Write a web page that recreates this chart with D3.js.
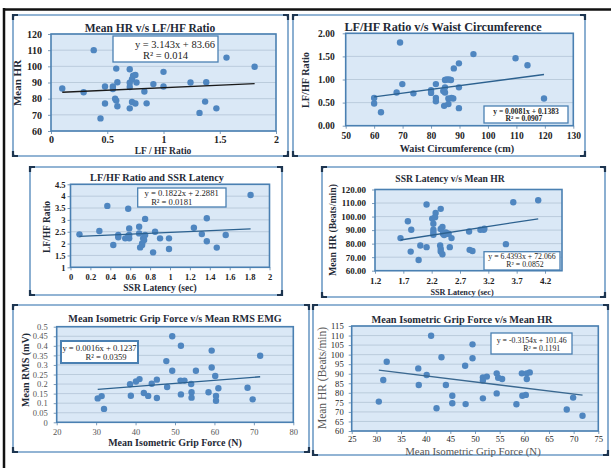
<!DOCTYPE html>
<html>
<head>
<meta charset="utf-8">
<script src="https://cdn.jsdelivr.net/npm/d3@7"></script>
<style>
  body { margin: 0; background: #fff; }
  svg { display: block; }
  text { font-family: "Liberation Serif", "DejaVu Serif", serif; }
</style>
</head>
<body>
<script>
// ---- data ----
// panel 1 : Mean HR v/s LF/HF ratio
const p1Lf = [0.1, 0.29, 0.38, 0.44, 0.48, 0.48, 0.55, 0.55, 0.58, 0.58, 0.57, 0.59, 0.59, 0.7, 0.7, 0.7, 0.7, 0.72, 0.73, 0.75, 0.72, 0.75, 0.76, 0.83, 0.85, 0.91, 1.0, 1.0, 1.24, 1.32, 1.37, 1.38, 1.47, 1.56, 1.81]
const p1Hr = [86.3, 84, 110, 67.8, 87.5, 77, 87.5, 86, 98.6, 78.8, 80, 90.2, 75.3, 98.2, 89.8, 87.2, 74, 92, 94.2, 94.6, 77.9, 77, 90, 84.4, 77.1, 89, 96.6, 87.5, 90, 71.2, 78.2, 90.2, 74, 105.4, 99.7]
const p1Ticks = { x: [0, 0.5, 1, 1.5, 2], y: [60, 70, 80, 90, 100, 110, 120] }

// panel 2 : LF/HF ratio v/s waist circumference
const p2Waist = [69.1, 60, 60, 62.4, 67.9, 69.9, 73.8, 80, 80, 81.7, 81.7, 81.7, 84.3, 84.9, 84.9, 84.6, 84.9, 85.5, 86.3, 87, 86.1, 87.2, 86.1, 88, 89.8, 89.8, 89.8, 87.8, 94.9, 109.7, 113.9, 119.7]
const p2Lf = [1.8, 0.6, 0.48, 0.29, 0.72, 0.9, 0.7, 0.77, 0.71, 0.9, 0.6, 0.53, 0.75, 0.83, 0.99, 0.43, 0.72, 1.0, 1.0, 0.99, 0.59, 0.6, 0.47, 1.24, 1.35, 0.83, 0.38, 0.59, 1.55, 1.46, 1.31, 0.59]
const p2Ticks = { x: [50, 60, 70, 80, 90, 100, 110, 120, 130], y: [0, 0.5, 1, 1.5, 2] }

// panel 3 : LF/HF ratio and SSR latency
const p3Ssr = [0.09, 0.29, 0.37, 0.43, 0.48, 0.48, 0.58, 0.55, 0.58, 0.59, 0.59, 0.59, 0.69, 0.69, 0.7, 0.72, 0.73, 0.74, 0.75, 0.75, 0.72, 0.83, 0.85, 0.9, 0.99, 0.99, 1.24, 1.32, 1.37, 1.37, 1.47, 1.56, 1.81]
const p3Lf = [2.39, 2.53, 3.59, 1.94, 2.36, 2.27, 3.47, 2.22, 2.32, 2.64, 2.22, 2.36, 2.71, 2.43, 1.84, 2.01, 2.22, 2.15, 3.04, 2.36, 1.94, 1.63, 2.5, 2.22, 2.22, 1.77, 2.67, 2.4, 3.07, 2.1, 1.83, 2.36, 4.05]
const p3Ticks = { x: [0, 0.2, 0.4, 0.6, 0.8, 1, 1.2, 1.4, 1.6, 1.8, 2], y: [1, 1.5, 2, 2.5, 3, 3.5, 4, 4.5] }

// panel 4 : SSR latency v/s mean HR
const p4Ssr = [1.65, 1.78, 1.83, 1.84, 1.97, 2.0, 2.11, 2.11, 2.21, 2.23, 2.23, 2.23, 2.23, 2.27, 2.26, 2.36, 2.35, 2.36, 2.36, 2.39, 2.36, 2.39, 2.4, 2.42, 2.45, 2.47, 2.5, 2.52, 2.55, 2.86, 2.87, 2.92, 3.06, 3.12, 3.13, 3.51, 3.64, 4.08]
const p4Hr = [84.1, 96.5, 74.1, 90.3, 67.9, 78.6, 108.9, 77.4, 98.5, 94.7, 90.3, 88.3, 86.5, 102.7, 99.5, 105.7, 78.6, 76.1, 74.1, 72.2, 90.8, 92.3, 87.3, 86.3, 88.3, 87.3, 87.3, 77.4, 84.1, 89, 75.4, 74.6, 90.3, 90.3, 91, 79.6, 110.6, 112.1]
const p4Ticks = { x: [1.2, 1.7, 2.2, 2.7, 3.2, 3.7, 4.2], y: [60, 70, 80, 90, 100, 110, 120] }

// panel 5 : grip force v/s RMS EMG
const p5Grip = [30.4, 31.4, 32, 38.6, 38.8, 40.1, 41, 42.1, 43.2, 44.1, 45.4, 45.4, 47.8, 48, 49.3, 49.3, 51.5, 51.4, 51.5, 52.4, 54.1, 54.2, 54.2, 55.3, 58.5, 59.3, 59.3, 60.2, 60.4, 60.4, 61, 68.4, 69.7, 71.6]
const p5Rms = [0.125, 0.137, 0.07, 0.199, 0.139, 0.213, 0.226, 0.153, 0.138, 0.202, 0.223, 0.127, 0.32, 0.185, 0.45, 0.27, 0.4, 0.218, 0.146, 0.218, 0.2, 0.157, 0.129, 0.27, 0.157, 0.375, 0.287, 0.242, 0.138, 0.113, 0.178, 0.181, 0.12, 0.348]
const p5Ticks = { x: [20, 30, 40, 50, 60, 70, 80], y: [0, 0.05, 0.1, 0.15, 0.2, 0.25, 0.3, 0.35, 0.4, 0.45, 0.5] }

// panel 6 : grip force v/s mean HR
const p6Grip = [30.5, 31.4, 32.1, 38.5, 38.6, 40.2, 41.1, 42.2, 43.2, 44.1, 45.4, 45.4, 48, 48.1, 49.5, 49.5, 51.6, 51.6, 51.6, 52.4, 54.4, 54.4, 54.7, 55.5, 58.4, 59.5, 59.6, 60.3, 60.5, 60.5, 61.1, 68.6, 69.9, 71.8]
const p6Hr = [75.4, 86.7, 96.3, 92.8, 84.1, 89.3, 109.9, 71.9, 98.6, 84.1, 78.5, 74.5, 94.2, 74.1, 105.4, 98.1, 88.1, 86.4, 77.1, 88.5, 90.2, 79.7, 87.9, 87.2, 74, 90.2, 78.5, 78.9, 90.2, 87.2, 90.7, 71.3, 77.5, 68]
const p6Ticks = { x: [25, 30, 35, 40, 45, 50, 55, 60, 65, 70, 75], y: [60, 65, 70, 75, 80, 85, 90, 95, 100, 105, 110, 115] }

// trend lines (slope, intercept) as printed on the chart
const trends = [[3.143, 83.66], [0.0081, 0.1383], [0.1822, 2.2881], [6.4393, 72.066], [0.0016, 0.1237], [-0.3154, 101.46]]

const svg = d3.select("body").append("svg")
    .attr("width", 611)
    .attr("height", 468)

// outer black border (top + left)
svg.append("line").attr("x1", 4).attr("x2", 611).attr("y1", 9.5).attr("y2", 9.5)
    .attr("stroke", "#111").attr("stroke-width", 2.5)
svg.append("line").attr("x1", 4).attr("x2", 4).attr("y1", 8).attr("y2", 468)
    .attr("stroke", "#111").attr("stroke-width", 2.5)

function panel(c) {
    const g = svg.append("g")
    // frame
    g.append("rect")
        .attr("x", c.frame[0]).attr("y", c.frame[1])
        .attr("width", c.frame[2] - c.frame[0]).attr("height", c.frame[3] - c.frame[1])
        .attr("rx", 3).attr("fill", "#fff")
        .attr("stroke", "#6f9cc6").attr("stroke-width", 1.6)
    // dark corners
    const [fx0, fy0, fx1, fy1] = c.frame
    const L = 5
    const corners = [
        `M${fx0},${fy0 + L}L${fx0},${fy0}L${fx0 + L},${fy0}`,
        `M${fx1 - L},${fy0}L${fx1},${fy0}L${fx1},${fy0 + L}`,
        `M${fx0},${fy1 - L}L${fx0},${fy1}L${fx0 + L},${fy1}`,
        `M${fx1 - L},${fy1}L${fx1},${fy1}L${fx1},${fy1 - L}`
    ]
    g.selectAll(".corner").data(corners).enter().append("path")
        .attr("d", d => d).attr("fill", "none")
        .attr("stroke", "#1d3550").attr("stroke-width", 2.2)

    const [px0, py0, px1, py1] = c.plot
    const x = d3.scaleLinear().domain(c.xDomain).range([px0, px1])
    const y = d3.scaleLinear().domain(c.yDomain).range([py1, py0])

    // plot area
    g.append("rect")
        .attr("x", px0).attr("y", py0).attr("width", px1 - px0).attr("height", py1 - py0)
        .attr("fill", "#dae8f6")

    // gridlines
    g.append("g").selectAll("line").data(c.ticks.y).enter().append("line")
        .attr("x1", px0).attr("x2", px1)
        .attr("y1", d => y(d)).attr("y2", d => y(d))
        .attr("stroke", "#b3c4d6").attr("stroke-width", 0.8)

    const tickFont = c.tickBold ? "bold" : "normal"
    const yAxis = g.append("g")
        .attr("transform", `translate(${px0},0)`)
        .call(d3.axisLeft(y).tickValues(c.ticks.y).tickSize(3).tickPadding(c.yPad || 4).tickFormat(c.yFmt))
    const xAxis = g.append("g")
        .attr("transform", `translate(0,${py1})`)
        .call(d3.axisBottom(x).tickValues(c.ticks.x).tickSize(3).tickPadding(c.xPad || 4).tickFormat(c.xFmt))
    for (const ax of [yAxis, xAxis]) {
        ax.select(".domain").remove()
        ax.selectAll("line").attr("stroke", "#7d9bb8")
        ax.selectAll("text")
            .style("font-family", '"Liberation Serif", serif')
            .style("font-size", c.tickSize + "px")
            .style("font-weight", tickFont)
            .attr("fill", c.tickColor || "#222")
    }

    // plot border
    g.append("rect")
        .attr("x", px0).attr("y", py0).attr("width", px1 - px0).attr("height", py1 - py0)
        .attr("fill", "none").attr("stroke", "#4a80b2").attr("stroke-width", 1.6)

    // points
    g.append("g").selectAll("circle").data(c.xs.map((v, i) => [v, c.ys[i]])).enter()
        .append("circle")
        .attr("cx", d => x(d[0])).attr("cy", d => y(d[1]))
        .attr("r", 3.2).attr("fill", "#4f86c0")

    // trend line
    const [m, b] = c.trend
    const xMin = d3.min(c.xs), xMax = d3.max(c.xs)
    g.append("line")
        .attr("x1", x(xMin)).attr("y1", y(m * xMin + b))
        .attr("x2", x(xMax)).attr("y2", y(m * xMax + b))
        .attr("stroke", c.trendColor).attr("stroke-width", 1.3)

    // equation box
    const eb = c.eqBox
    g.append("rect")
        .attr("x", eb[0]).attr("y", eb[1]).attr("width", eb[2] - eb[0]).attr("height", eb[3] - eb[1])
        .attr("fill", "#fff").attr("stroke", "#4a80b2").attr("stroke-width", c.eqStroke || 1.3)
    c.eqLines.forEach(l => {
        g.append("text")
            .attr("x", l[1]).attr("y", l[2])
            .attr("text-anchor", "middle")
            .style("font-size", c.eqSize + "px")
            .style("font-weight", c.eqBold ? "bold" : "normal")
            .attr("fill", "#222")
            .text(l[0])
    })

    // title and axis labels
    g.append("text")
        .attr("x", c.title[1]).attr("y", c.title[2])
        .attr("text-anchor", "middle")
        .style("font-size", c.titleSize + "px").style("font-weight", "bold")
        .attr("fill", "#1f2a36")
        .text(c.title[0])
    g.append("text")
        .attr("x", c.xLabel[1]).attr("y", c.xLabel[2])
        .attr("text-anchor", "middle")
        .style("font-size", (c.xLabelSize || c.labelSize) + "px")
        .style("font-weight", c.labelBold === false ? "normal" : "bold")
        .attr("fill", c.labelColor || "#1f2a36")
        .text(c.xLabel[0])
    g.append("text")
        .attr("transform", `translate(${c.yLabel[1]},${c.yLabel[2]}) rotate(-90)`)
        .attr("text-anchor", "middle")
        .style("font-size", c.labelSize + "px")
        .style("font-weight", c.labelBold === false ? "normal" : "bold")
        .attr("fill", c.labelColor || "#1f2a36")
        .text(c.yLabel[0])
}

const plain = d => String(d)
const fix2 = d3.format(".2f")

panel({
    frame: [13, 15, 288, 156], plot: [51, 34, 276, 131],
    xDomain: [0, 2], yDomain: [60, 120], ticks: p1Ticks,
    xs: p1Lf, ys: p1Hr, trend: trends[0], trendColor: "#1a1a1a",
    xFmt: plain, yFmt: plain, tickSize: 10, tickBold: true, yPad: 6, xPad: 2,
    eqBox: [113, 36, 218, 62], eqSize: 10.5,
    eqLines: [["y = 3.143x + 83.66", 175, 48], ["R² = 0.014", 165.5, 59]],
    title: ["Mean  HR  v/s  LF/HF Ratio", 150, 32], titleSize: 11.5,
    xLabel: ["LF / HF Ratio", 163, 154], xLabelSize: 9.5,
    yLabel: ["Mean HR", 21, 83], labelSize: 11
})

panel({
    frame: [293, 15, 585, 156], plot: [345.7, 33.3, 573.3, 125.7],
    xDomain: [50, 130], yDomain: [0, 2], ticks: p2Ticks,
    xs: p2Waist, ys: p2Lf, trend: trends[1], trendColor: "#2c618f",
    xFmt: plain, yFmt: fix2, tickSize: 9.5, tickBold: true, yPad: 8,
    eqBox: [484, 106, 568, 123], eqSize: 7.6, eqBold: true,
    eqLines: [["y = 0.0081x + 0.1383", 526, 113.5], ["R² = 0.0907", 524, 121]],
    title: ["LF/HF Ratio v/s Waist Circumference", 443, 31], titleSize: 12.2,
    xLabel: ["Waist Circumference (cm)", 457, 152], yLabel: ["LF/HF Ratio", 309, 80], labelSize: 10.2
})

panel({
    frame: [30, 167, 282, 295], plot: [70.5, 184.3, 269.5, 267.3],
    xDomain: [0, 2], yDomain: [1, 4.5], ticks: p3Ticks,
    xs: p3Ssr, ys: p3Lf, trend: trends[2], trendColor: "#2c618f",
    xFmt: plain, yFmt: plain, tickSize: 8.5, tickBold: true, yPad: 2,
    eqBox: [137.7, 188, 226, 207], eqSize: 8.6,
    eqLines: [["y = 0.1822x + 2.2881", 181.7, 196], ["R² = 0.0181", 171.7, 204.8]],
    title: ["LF/HF Ratio and SSR Latency", 157, 181], titleSize: 10.2,
    xLabel: ["SSR Latency (sec)", 160, 291], yLabel: ["LF/HF Ratio", 50, 227], labelSize: 9.5
})

panel({
    frame: [322, 167, 605, 297], plot: [375, 189.5, 562, 270.7],
    xDomain: [1.2, 4.5], yDomain: [60, 120], ticks: p4Ticks,
    xs: p4Ssr, ys: p4Hr, trend: trends[3], trendColor: "#2c618f",
    xFmt: plain, yFmt: fix2, tickSize: 9, tickBold: true, yPad: 6,
    eqBox: [484, 251.7, 560, 270], eqSize: 7.8,
    eqLines: [["y = 6.4393x + 72.066", 522, 259], ["R² = 0.0852", 525, 267.3]],
    title: ["SSR Latency v/s Mean HR", 450, 182], titleSize: 9.6,
    xLabel: ["SSR Latency (sec)", 462, 295], xLabelSize: 8.2,
    yLabel: ["Mean HR (Beats/min)", 336, 230], labelSize: 9.8
})

panel({
    frame: [13, 305, 309, 452], plot: [56.7, 326.7, 293.3, 422.3],
    xDomain: [20, 80], yDomain: [0, 0.5], ticks: p5Ticks,
    xs: p5Grip, ys: p5Rms, trend: trends[4], trendColor: "#2c618f",
    xFmt: plain, yFmt: plain, tickSize: 8.5, tickBold: false, tickColor: "#555", yPad: 6,
    eqBox: [61, 341, 138, 363], eqSize: 8.6, eqStroke: 2,
    eqLines: [["y = 0.0016x + 0.1237", 99.5, 350.5], ["R² = 0.0359", 106, 360.3]],
    title: ["Mean Isometric Grip Force v/s Mean RMS EMG", 175, 322], titleSize: 10.2,
    xLabel: ["Mean Isometric Grip Force (N)", 175, 446], yLabel: ["Mean RMS (mV)", 29, 370], labelSize: 10
})

panel({
    frame: [313, 305, 608, 455], plot: [351.7, 326, 598.3, 431],
    xDomain: [25, 75], yDomain: [60, 115], ticks: p6Ticks,
    xs: p6Grip, ys: p6Hr, trend: trends[5], trendColor: "#3a6890",
    xFmt: plain, yFmt: plain, tickSize: 8.6, tickBold: false, yPad: 5, xPad: 1.5,
    eqBox: [491, 333, 572, 354], eqSize: 7.8,
    eqLines: [["y = -0.3154x + 101.46", 531.7, 342.5], ["R² = 0.1191", 541.7, 351]],
    title: ["Mean Isometric Grip Force v/s Mean HR", 462, 323], titleSize: 10.3,
    xLabel: ["Mean Isometric Grip Force (N)", 473, 454.5], xLabelSize: 10.8,
    yLabel: ["Mean HR (Beats/min)", 326, 378],
    labelSize: 11.5, labelBold: false, labelColor: "#555"
})
</script>
</body>
</html>
